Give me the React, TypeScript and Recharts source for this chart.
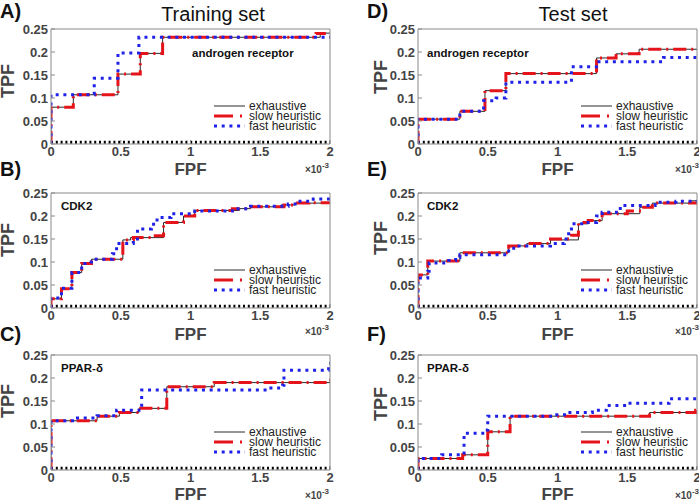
import React from 'react';
import { LineChart, Line, XAxis, YAxis, ReferenceLine } from 'recharts';

// ---------- data (FPF in units of 1e-3, TPF) ----------
const xTicks = [0, 0.5, 1, 1.5, 2];
const yTicks = [0, 0.05, 0.1, 0.15, 0.2, 0.25];
const columnTitles = ['Training set', 'Test set'];
const targets = ['androgen receptor', 'CDK2', 'PPAR-δ'];
const panelLetters = ['A)', 'B)', 'C)', 'D)', 'E)', 'F)'];
const seriesNames = ['exhaustive', 'slow heuristic', 'fast heuristic'];

// black dotted line along the bottom of every panel
const baselineX = [0, 2];
const baselineY = [0.004, 0.004];

// A) training, androgen receptor
const A_exh_x = [0, 0, 0.16, 0.48, 0.64, 0.8, 1.93, 2];
const A_exh_y = [0, 0.08, 0.107, 0.152, 0.197, 0.232, 0.241, 0.241];
const A_slow_x = [0, 0, 0.16, 0.48, 0.64, 0.8, 1.9, 1.97];
const A_slow_y = [0, 0.08, 0.107, 0.152, 0.197, 0.232, 0.24, 0.24];
const A_fast_x = [0, 0, 0.31, 0.48, 0.63, 2];
const A_fast_y = [0, 0.107, 0.143, 0.198, 0.232, 0.232];

// B) training, CDK2
const B_exh_x = [0, 0, 0.075, 0.15, 0.22, 0.29, 0.515, 0.57, 0.807, 0.95, 1.03, 1.35, 1.43, 1.65, 1.75, 2];
const B_exh_y = [0, 0.02, 0.042, 0.077, 0.097, 0.106, 0.148, 0.153, 0.186, 0.2, 0.212, 0.216, 0.22, 0.224, 0.228, 0.228];
const B_slow_x = [0, 0, 0.075, 0.15, 0.22, 0.29, 0.515, 0.59, 0.735, 0.807, 0.95, 1.03, 1.3, 1.43, 1.67, 1.75, 1.85, 2];
const B_slow_y = [0, 0.02, 0.042, 0.077, 0.097, 0.106, 0.148, 0.153, 0.157, 0.186, 0.2, 0.212, 0.216, 0.22, 0.224, 0.228, 0.229, 0.229];
const B_fast_x = [0, 0, 0.075, 0.15, 0.22, 0.26, 0.29, 0.44, 0.47, 0.59, 0.62, 0.72, 0.76, 0.86, 1.03, 1.3, 1.43, 1.7, 1.75, 1.88, 2];
const B_fast_y = [0, 0.022, 0.043, 0.077, 0.097, 0.1, 0.106, 0.118, 0.14, 0.15, 0.172, 0.182, 0.197, 0.205, 0.211, 0.216, 0.221, 0.226, 0.232, 0.237, 0.237];

// C) training, PPAR-delta
const C_exh_x = [0, 0, 0.33, 0.49, 0.63, 0.83, 1.17, 2];
const C_exh_y = [0, 0.107, 0.117, 0.125, 0.134, 0.181, 0.19, 0.19];
const C_slow_x = [0, 0, 0.33, 0.49, 0.63, 0.83, 1.17, 1.98, 2];
const C_slow_y = [0, 0.107, 0.117, 0.125, 0.134, 0.181, 0.19, 0.195, 0.195];
const C_fast_x = [0, 0, 0.17, 0.33, 0.47, 0.65, 1.55, 1.66, 1.67, 1.99, 2];
const C_fast_y = [0, 0.107, 0.113, 0.118, 0.13, 0.174, 0.178, 0.184, 0.217, 0.232, 0.232];

// D) test, androgen receptor
const D_exh_x = [0, 0, 0.3, 0.48, 0.63, 1.28, 1.42, 1.585, 2];
const D_exh_y = [0, 0.054, 0.071, 0.116, 0.153, 0.187, 0.196, 0.206, 0.206];
const D_slow_x = [0, 0, 0.3, 0.48, 0.63, 1.28, 1.42, 1.585, 2];
const D_slow_y = [0, 0.054, 0.071, 0.116, 0.153, 0.187, 0.196, 0.206, 0.206];
const D_fast_x = [0, 0, 0.3, 0.47, 0.56, 0.63, 1.1, 1.28, 1.76, 2];
const D_fast_y = [0, 0.054, 0.071, 0.094, 0.1, 0.134, 0.168, 0.179, 0.188, 0.188];

// E) test, CDK2
const E_exh_x = [0, 0, 0.07, 0.3, 0.65, 0.78, 0.95, 1.15, 1.22, 1.32, 1.59, 1.68, 1.95, 2];
const E_exh_y = [0, 0.072, 0.102, 0.12, 0.135, 0.14, 0.148, 0.183, 0.19, 0.205, 0.219, 0.228, 0.233, 0.233];
const E_slow_x = [0, 0, 0.07, 0.3, 0.65, 0.78, 0.95, 1.1, 1.15, 1.22, 1.32, 1.5, 1.6, 1.68, 2];
const E_slow_y = [0, 0.072, 0.102, 0.12, 0.135, 0.14, 0.15, 0.158, 0.186, 0.19, 0.205, 0.211, 0.219, 0.228, 0.228];
const E_fast_x = [0, 0, 0.07, 0.08, 0.22, 0.27, 0.3, 0.65, 0.7, 0.95, 1.05, 1.08, 1.1, 1.2, 1.28, 1.32, 1.45, 1.7, 1.85, 2];
const E_fast_y = [0, 0.065, 0.08, 0.098, 0.103, 0.11, 0.116, 0.13, 0.135, 0.14, 0.15, 0.168, 0.183, 0.186, 0.2, 0.208, 0.223, 0.23, 0.232, 0.235];

// F) test, PPAR-delta
const F_exh_x = [0, 0, 0.32, 0.5, 0.66, 1.66, 2];
const F_exh_y = [0, 0.025, 0.033, 0.083, 0.117, 0.125, 0.125];
const F_slow_x = [0, 0, 0.32, 0.5, 0.66, 1.66, 1.99, 2];
const F_slow_y = [0, 0.025, 0.033, 0.083, 0.117, 0.125, 0.13, 0.13];
const F_fast_x = [0, 0, 0.17, 0.33, 0.48, 0.5, 0.98, 1.05, 1.25, 1.35, 1.5, 1.8, 2];
const F_fast_y = [0, 0.025, 0.033, 0.08, 0.087, 0.117, 0.12, 0.125, 0.13, 0.14, 0.145, 0.155, 0.158];

// ---------- helpers ----------
const pts = (xs: number[], ys: number[]) => xs.map((x, i) => ({ x, y: ys[i] }));

const FONT = '"Liberation Sans", Arial, Helvetica, sans-serif';
const AXIS = '#8a8a8a';
const TICKTXT = '#444';
const BLACK = '#2a2a2a';
const RED = '#e5141b';
const BLUE = '#1f22e6';

const PLOT_W = 279;
const PLOT_H = 115;
const colLeft = [0, 350];
const chartW = [345, 349];
const mLeft = [21, 38];
const mRight = [14, 1];
const plotTops = [29, 193, 355];

type Pt = { x: number; y: number };
type PanelDef = { exh: Pt[]; slow: Pt[]; fast: Pt[] };

const panels: PanelDef[] = [
  { exh: pts(A_exh_x, A_exh_y), slow: pts(A_slow_x, A_slow_y), fast: pts(A_fast_x, A_fast_y) },
  { exh: pts(B_exh_x, B_exh_y), slow: pts(B_slow_x, B_slow_y), fast: pts(B_fast_x, B_fast_y) },
  { exh: pts(C_exh_x, C_exh_y), slow: pts(C_slow_x, C_slow_y), fast: pts(C_fast_x, C_fast_y) },
  { exh: pts(D_exh_x, D_exh_y), slow: pts(D_slow_x, D_slow_y), fast: pts(D_fast_x, D_fast_y) },
  { exh: pts(E_exh_x, E_exh_y), slow: pts(E_slow_x, E_slow_y), fast: pts(E_fast_x, E_fast_y) },
  { exh: pts(F_exh_x, F_exh_y), slow: pts(F_slow_x, F_slow_y), fast: pts(F_fast_x, F_fast_y) },
];

const baseline = pts(baselineX, baselineY);
const tickStyle = { fill: TICKTXT, fontSize: 13, fontWeight: 700, fontFamily: FONT };

const Panel = ({ idx }: { idx: number }) => {
  const col = idx < 3 ? 0 : 1;
  const row = idx % 3;
  const p = panels[idx];
  const w = chartW[col];
  return (
    <div style={{ position: 'absolute', left: colLeft[col], top: plotTops[row] - 10, width: w, height: 145 }}>
      <LineChart width={w} height={145} margin={{ top: 9, right: mRight[col], left: mLeft[col], bottom: 0 }}>
        <XAxis
          type="number"
          dataKey="x"
          domain={[0, 2]}
          ticks={xTicks}
          interval={0}
          allowDataOverflow
          height={20}
          tickSize={-4}
          tickMargin={7}
          stroke={AXIS}
          tick={tickStyle}
          tickFormatter={(v: number) => String(v)}
        />
        <XAxis
          xAxisId="top"
          orientation="top"
          type="number"
          domain={[0, 2]}
          ticks={xTicks}
          interval={0}
          allowDataOverflow
          height={1}
          tickSize={-4}
          stroke={AXIS}
          tick={false}
        />
        <YAxis
          type="number"
          dataKey="y"
          domain={[0, 0.25]}
          ticks={yTicks}
          interval={0}
          allowDataOverflow
          width={30}
          tickSize={-4}
          tickMargin={7}
          stroke={AXIS}
          tick={tickStyle}
          tickFormatter={(v: number) => String(v)}
        />
        <YAxis
          yAxisId="right"
          orientation="right"
          type="number"
          domain={[0, 0.25]}
          ticks={yTicks}
          interval={0}
          allowDataOverflow
          width={1}
          tickSize={-4}
          stroke={AXIS}
          tick={false}
        />
        <ReferenceLine
          segment={baseline}
          ifOverflow="visible"
          stroke="#000"
          strokeWidth={3}
          strokeDasharray="2 2.8"
        />
        <Line data={p.exh} dataKey="y" name={seriesNames[0]} type="stepAfter" stroke={BLACK} strokeWidth={1} dot={false} activeDot={false} isAnimationActive={false} />
        <Line data={p.slow} dataKey="y" name={seriesNames[1]} type="stepAfter" stroke={RED} strokeWidth={3} strokeDasharray="13 5 2 5" dot={false} activeDot={false} isAnimationActive={false} />
        <Line data={p.fast} dataKey="y" name={seriesNames[2]} type="stepAfter" stroke={BLUE} strokeWidth={3} strokeDasharray="3 4.7" dot={false} activeDot={false} isAnimationActive={false} />
      </LineChart>
    </div>
  );
};

const letterPos = [
  { x: 0, y: 18 }, { x: 0, y: 176 }, { x: 0, y: 341 },
  { x: 367, y: 18 }, { x: 367, y: 176 }, { x: 367, y: 341 },
];
const fpfBase = [175, 340, 500];
const expBase = [173, 335, 499];
const tpfCenter = [[81, 240, 401], [77, 238, 404]];
const tpfX = [14, 387];
const namePos = [
  { x: 192, y: 57 }, { x: 61, y: 210 }, { x: 61, y: 372 },
  { x: 427, y: 57 }, { x: 427, y: 210 }, { x: 427, y: 372 },
];

export default function App() {
  return (
    <div style={{ position: 'absolute', left: 0, top: 0, width: 699, height: 503, background: '#fff', overflow: 'hidden' }}>
      {[0, 1, 2, 3, 4, 5].map((i) => (
        <Panel key={i} idx={i} />
      ))}
      <svg width={699} height={503} style={{ position: 'absolute', left: 0, top: 0, pointerEvents: 'none' }}>
        <text x={213} y={21} fontSize={20} fontFamily={FONT} textAnchor="middle" fill="#111">{columnTitles[0]}</text>
        <text x={573} y={21} fontSize={20} fontFamily={FONT} textAnchor="middle" fill="#111">{columnTitles[1]}</text>
        {panelLetters.map((l, i) => (
          <text key={l} x={letterPos[i].x} y={letterPos[i].y} fontSize={20} fontWeight={700} fontFamily={FONT} fill="#111">{l}</text>
        ))}
        {[0, 1, 2, 3, 4, 5].map((i) => {
          const col = i < 3 ? 0 : 1;
          const row = i % 3;
          const pl = colLeft[col] + mLeft[col] + 30;
          const pr = pl + PLOT_W;
          const pb = plotTops[row] + PLOT_H;
          const lx = pr - 116;
          const ly = pb - 38;
          return (
            <g key={i}>
              <text x={(pl + pr) / 2} y={fpfBase[row]} fontSize={17} fontWeight={700} fontFamily={FONT} textAnchor="middle" fill={TICKTXT}>FPF</text>
              <text x={col === 0 ? pr - 1 : 699} y={expBase[row]} fontSize={10} fontWeight={700} fontFamily={FONT} textAnchor="end" fill={TICKTXT}>
                ×10<tspan dy={-5} fontSize={8}>-3</tspan>
              </text>
              <text transform={`translate(${tpfX[col]},${tpfCenter[col][row]}) rotate(-90)`} fontSize={18} fontWeight={700} fontFamily={FONT} textAnchor="middle" fill={TICKTXT}>TPF</text>
              <text x={namePos[i].x} y={namePos[i].y} fontSize={11.5} fontWeight={700} fontFamily={FONT} fill="#111">{targets[row]}</text>
              {/* legend */}
              <line x1={lx} x2={lx + 31} y1={ly} y2={ly} stroke={BLACK} strokeWidth={1} />
              <line x1={lx} x2={lx + 31} y1={ly + 10} y2={ly + 10} stroke={RED} strokeWidth={3} strokeDasharray="19 7 2 20" />
              <line x1={lx} x2={lx + 31} y1={ly + 20} y2={ly + 20} stroke={BLUE} strokeWidth={3} strokeDasharray="3 4.7" />
              {seriesNames.map((n, k) => (
                <text key={n} x={lx + 35} y={ly + k * 10 + 4} fontSize={12} fontFamily={FONT} fill="#222">{n}</text>
              ))}
            </g>
          );
        })}
      </svg>
    </div>
  );
}
